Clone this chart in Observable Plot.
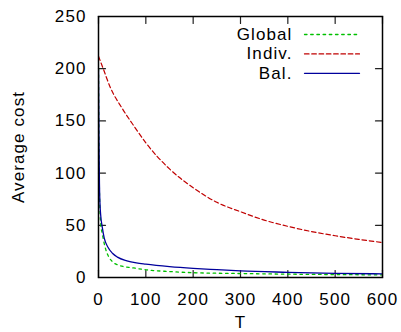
<!DOCTYPE html>
<html>
<head>
<meta charset="utf-8">
<script src="https://cdn.jsdelivr.net/npm/d3@7"></script>
<script src="https://cdn.jsdelivr.net/npm/@observablehq/plot@0.6"></script>
<style>
  html, body { margin: 0; padding: 0; background: #fff; }
  svg text { letter-spacing: 1.1px; }
</style>
</head>
<body>
<div id="chart"></div>
<script>
// ---- data ----
const globalT   = [0, 1, 3, 5, 8, 14, 22, 30, 44, 72, 100, 150, 200, 300, 400, 500, 600];
const globalVal = [200, 120, 65, 50, 42, 29, 19.5, 15, 11.5, 9.3, 7.4, 5.7, 4.6, 3.8, 3.2, 2.8, 2.5];

const indivT    = [0, 10, 25, 50, 75, 100, 150, 200, 250, 300, 350, 400, 450, 500, 550, 600];
const indivVal  = [212, 200, 182, 162, 145, 129, 104, 86, 72, 63, 55, 49, 44, 40, 36.5, 33.5];

const balT      = [0, 1, 2, 3, 5, 8, 12, 20, 30, 40, 60, 80, 100, 150, 200, 250, 300, 400, 500, 600];
const balVal    = [200, 130, 90, 72, 58, 48, 38, 29, 23, 19.5, 16, 14, 12.8, 10.5, 8.8, 7.5, 6.3, 5, 4, 3.5];

const xTicks = [0, 100, 200, 300, 400, 500, 600];
const yTicks = [0, 50, 100, 150, 200, 250];

const seriesNames  = ["Global", "Indiv.", "Bal."];
const seriesColors = ["#00c000", "#c00000", "#00009c"];
const seriesDash   = ["2.5,3.7", "4.5,2.8", null];

const xLabel = "T";
const yLabel = "Average cost";

// ---- build rows ----
const toRows = (ts, vs) => ts.map((t, i) => ({T: t, v: vs[i]}));
const globalRows = toRows(globalT, globalVal);
const indivRows = toRows(indivT, indivVal);
const balRows = toRows(balT, balVal);

const lineShape = {
  draw(context, l) { context.moveTo(0, 0); context.lineTo(0, -l); }
};

// legend marks (one row per series, stacked from top-right corner of the frame)
const legendMarks = seriesNames.flatMap((name, i) => [
  Plot.text([name], {frameAnchor: "top-right", dx: -90, dy: 18 + i * 19.4, textAnchor: "end", lineAnchor: "middle"}),
  Plot.vector([name], {frameAnchor: "top-right", dx: -78, dy: 18 + i * 19.4, rotate: 90, length: 55, anchor: "start",
    shape: lineShape, stroke: seriesColors[i], strokeWidth: 1.3, strokeDasharray: seriesDash[i]})
]);

const chart = Plot.plot({
  width: 401,
  height: 332,
  marginLeft: 98,
  marginRight: 19,
  marginTop: 16,
  marginBottom: 55,
  style: {fontFamily: "'Liberation Sans', Arial, Helvetica, sans-serif", fontSize: "17px", color: "#000", background: "#fff"},
  x: {domain: [0, 600]},
  y: {domain: [0, 250]},
  marks: [
    // tick labels
    Plot.axisX(xTicks, {tickSize: 0, tickPadding: 15, label: null}),
    Plot.axisY(yTicks, {tickSize: 0, tickPadding: 12, label: null}),
    // inward ticks on all sides
    Plot.vector(xTicks, {x: d => d, frameAnchor: "bottom", rotate: 0, length: 7, anchor: "start", shape: lineShape, stroke: "#222", strokeWidth: 1.2}),
    Plot.vector(xTicks, {x: d => d, frameAnchor: "top", rotate: 180, length: 7, anchor: "start", shape: lineShape, stroke: "#222", strokeWidth: 1.2}),
    Plot.vector(yTicks, {y: d => d, frameAnchor: "left", rotate: 90, length: 7, anchor: "start", shape: lineShape, stroke: "#222", strokeWidth: 1.2}),
    Plot.vector(yTicks, {y: d => d, frameAnchor: "right", rotate: 270, length: 7, anchor: "start", shape: lineShape, stroke: "#222", strokeWidth: 1.2}),
    // series
    Plot.line(globalRows, {x: "T", y: "v", stroke: seriesColors[0], strokeWidth: 1.3, strokeDasharray: seriesDash[0], curve: "monotone-x", clip: true}),
    Plot.line(indivRows, {x: "T", y: "v", stroke: seriesColors[1], strokeWidth: 1.2, strokeDasharray: seriesDash[1], curve: "monotone-x", clip: true}),
    Plot.line(balRows, {x: "T", y: "v", stroke: seriesColors[2], strokeWidth: 1.3, curve: "monotone-x", clip: true}),
    // frame
    Plot.frame({stroke: "#000", strokeWidth: 1.5}),
    // legend
    ...legendMarks,
    // axis labels
    Plot.text([xLabel], {frameAnchor: "bottom", dy: 45, lineAnchor: "middle", textAnchor: "middle"}),
    Plot.text([yLabel], {frameAnchor: "left", dx: -80, rotate: -90, lineAnchor: "middle", textAnchor: "middle"})
  ]
});

document.getElementById("chart").append(chart);
</script>
</body>
</html>
